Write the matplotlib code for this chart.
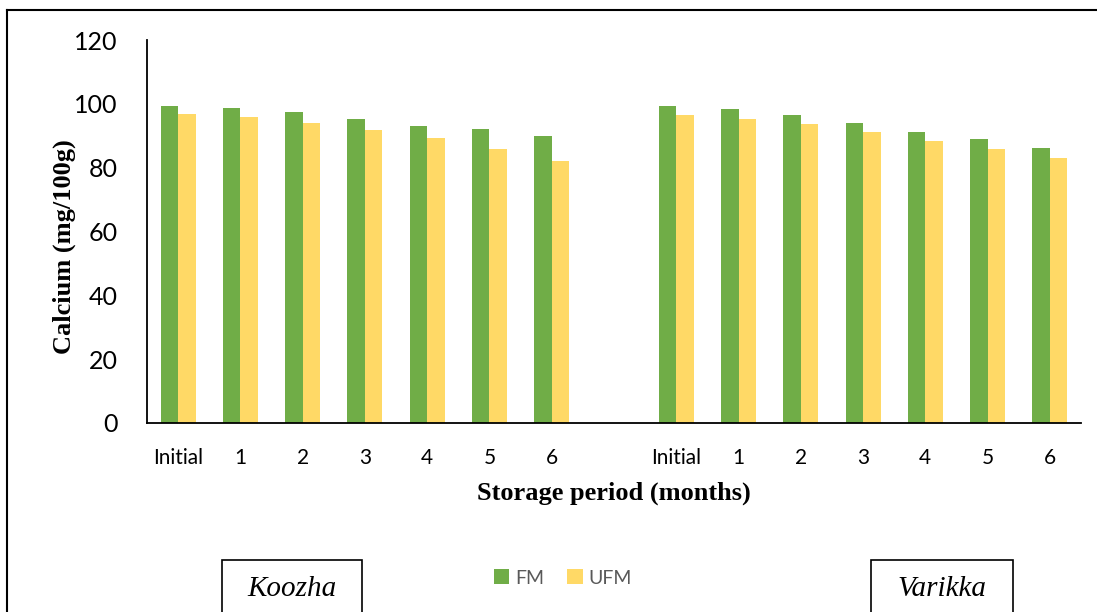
import numpy as np
import matplotlib
matplotlib.use("Agg")
import matplotlib.pyplot as plt
from matplotlib.patches import Rectangle
from matplotlib.lines import Line2D

# ── data ──────────────────────────────────────────────────────────────────────
periods = ["Initial", "1", "2", "3", "4", "5", "6"]
koozha_fm = [99.4, 98.7, 97.5, 95.3, 93.1, 92.2, 90.0]
koozha_ufm = [96.9, 95.9, 94.0, 91.8, 89.3, 85.9, 82.1]
varikka_fm = [99.4, 98.4, 96.5, 94.0, 91.3, 89.0, 86.3]
varikka_ufm = [96.6, 95.3, 93.7, 91.1, 88.3, 85.9, 82.9]
products = ["Koozha", "Varikka"]
series_names = ["FM", "UFM"]

GREEN = "#70AD47"
YELLOW = "#FFD966"
TICK_FONT = "Lato"

fig = plt.figure(figsize=(10.97, 6.12), dpi=100)
ax = fig.add_axes([147 / 1097, 1 - 423 / 612, (1081 - 147) / 1097, 383 / 612])

# two product groups separated by one empty slot
n = len(periods)
x_k = np.arange(n)
x_v = np.arange(n) + n + 1
w = 0.28

ax.bar(x_k - w / 2, koozha_fm, w, color=GREEN, label=series_names[0])
ax.bar(x_k + w / 2, koozha_ufm, w, color=YELLOW, label=series_names[1])
ax.bar(x_v - w / 2, varikka_fm, w, color=GREEN)
ax.bar(x_v + w / 2, varikka_ufm, w, color=YELLOW)

ax.set_xlim(-0.5, 2 * n + 0.5)
ax.set_ylim(0, 120)
ax.set_yticks(range(0, 121, 20))
ax.set_xticks(np.concatenate([x_k, x_v]))
ax.set_xticklabels(periods + periods, fontsize=15, family=TICK_FONT)
for lab in ax.get_yticklabels():
    lab.set_fontsize(18)
    lab.set_family(TICK_FONT)
ax.tick_params(axis="y", length=0, pad=21)
ax.tick_params(axis="x", length=0, pad=18)

for s in ["top", "right"]:
    ax.spines[s].set_visible(False)
ax.spines["left"].set_linewidth(1.3)
ax.spines["bottom"].set_linewidth(1.3)

ax.set_ylabel("Calcium (mg/100g)", family="Liberation Serif", fontweight="bold",
              fontsize=19)
ax.yaxis.set_label_coords(-0.076, 0.46)
ax.set_xlabel("Storage period (months)", family="Liberation Serif", fontweight="bold",
              fontsize=19, labelpad=10)

# legend
fig.legend(loc="center", bbox_to_anchor=(563 / 1097, 1 - 578 / 612), ncol=2,
           frameon=False, handlelength=0.8, handleheight=0.8, handletextpad=0.3,
           columnspacing=1.2, prop={"family": TICK_FONT, "size": 14},
           labelcolor="#595959")

# outer frame (left and top edges only visible)
fig.add_artist(Line2D([7 / 1097, 7 / 1097], [0, 1 - 10 / 612], color="black", lw=1.5))
fig.add_artist(Line2D([7 / 1097, 1], [1 - 10 / 612, 1 - 10 / 612], color="black", lw=1.5))

# product name boxes
boxes = [(222, 362), (871, 1013)]
for name, (x0, x1) in zip(products, boxes):
    fig.add_artist(Rectangle((x0 / 1097, -0.05), (x1 - x0) / 1097, 0.05 + 52 / 612,
                             transform=fig.transFigure, fill=False, ec="black", lw=1.2))
    fig.text((x0 + x1) / 2 / 1097, 1 - 589 / 612, name, ha="center", va="center",
             family="Liberation Serif", style="italic", fontsize=21)

fig.savefig("out.png", dpi=100)
